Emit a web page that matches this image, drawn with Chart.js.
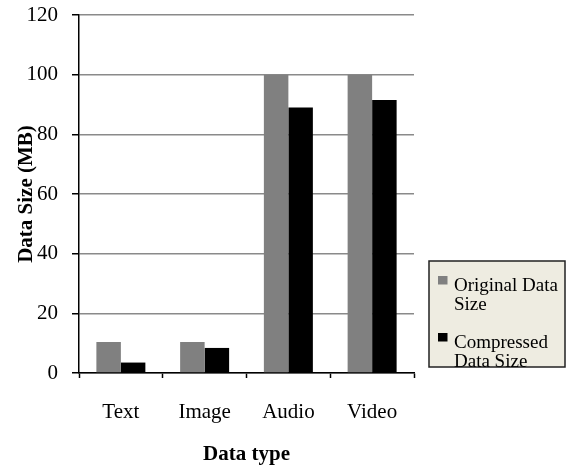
<!DOCTYPE html>
<html>
<head>
<meta charset="utf-8">
<script src="https://cdn.jsdelivr.net/npm/chart.js@4"></script>
<style>
  html, body { margin: 0; padding: 0; background: #fff; }
  #wrap { width: 568px; height: 466px; position: relative; }
</style>
</head>
<body>
<div id="wrap"><canvas id="c"></canvas></div>
<script>
// Data sizes (MB) per data type
const categories = ['Text', 'Image', 'Audio', 'Video'];
const originalSize = [10.4, 10.4, 100, 100];
const compressedSize = [3.5, 8.4, 89, 91.5];
const seriesNames = ['Original Data Size', 'Compressed Data Size'];
const legendLines = [['Original Data', 'Size'], ['Compressed', 'Data Size']];
const yTicks = [0, 20, 40, 60, 80, 100, 120];

const FONT = "'Liberation Serif', 'Times New Roman', serif";

// Boxed legend at the right, with wrapped labels
const boxLegend = {
  id: 'boxLegend',
  afterDraw(chart) {
    const ctx = chart.ctx;
    const x0 = 429, y0 = 261, w = 136, h = 106;
    ctx.save();
    ctx.fillStyle = '#eeece1';
    ctx.fillRect(x0, y0, w, h);
    ctx.strokeStyle = '#222';
    ctx.lineWidth = 1.5;
    ctx.strokeRect(x0, y0, w, h);
    ctx.font = "19px " + FONT;
    ctx.textBaseline = 'alphabetic';
    ctx.textAlign = 'left';
    chart.data.datasets.forEach((ds, i) => {
      const top = y0 + 15 + i * 57;
      ctx.fillStyle = ds.backgroundColor;
      ctx.fillRect(x0 + 9, top, 9.5, 8.5);
      ctx.fillStyle = '#000';
      legendLines[i].forEach((line, j) => {
        ctx.fillText(line, x0 + 25, top + 14.5 + j * 19.5);
      });
    });
    ctx.restore();
  }
};

new Chart(document.getElementById('c'), {
  type: 'bar',
  data: {
    labels: categories,
    datasets: [
      { label: seriesNames[0], data: originalSize, backgroundColor: '#808080',
        barPercentage: 1, categoryPercentage: 0.585 },
      { label: seriesNames[1], data: compressedSize, backgroundColor: '#000000',
        barPercentage: 1, categoryPercentage: 0.585 }
    ]
  },
  options: {
    responsive: true,
    maintainAspectRatio: false,
    animation: false,
    layout: { padding: { top: 15, right: 154, bottom: 0, left: 0 } },
    plugins: {
      legend: { display: false },
      tooltip: { enabled: false }
    },
    scales: {
      x: {
        afterFit(scale) { scale.height = 93; },
        grid: { display: true, drawOnChartArea: false, drawTicks: true,
                tickLength: 5, tickColor: '#000', tickWidth: 1.5, offset: true },
        border: { color: '#000', width: 1.5 },
        ticks: { color: '#000', font: { family: FONT, size: 21 }, padding: 22 },
        title: { display: true, text: 'Data type', color: '#000',
                 font: { family: FONT, size: 21, weight: 'bold', lineHeight: 1 },
                 padding: { top: 17, bottom: 0.5 } }
      },
      y: {
        min: 0, max: 120,
        afterBuildTicks(scale) { scale.ticks = yTicks.map(v => ({ value: v })); },
        afterFit(scale) {
          scale.width = 79;
          scale.paddingTop = 0;
          scale.paddingBottom = 0;
        },
        grid: { color: '#8a8a8a', lineWidth: 1.5, tickLength: 7,
                tickColor: '#000', tickWidth: 1.5 },
        border: { color: '#000', width: 1.5 },
        ticks: { color: '#000', font: { family: FONT, size: 21 }, padding: 14 },
        title: { display: true, text: 'Data Size (MB)', color: '#000',
                 font: { family: FONT, size: 21, weight: 'bold' },
                 padding: { top: 14, bottom: 0 } }
      }
    }
  },
  plugins: [boxLegend]
});
</script>
</body>
</html>
